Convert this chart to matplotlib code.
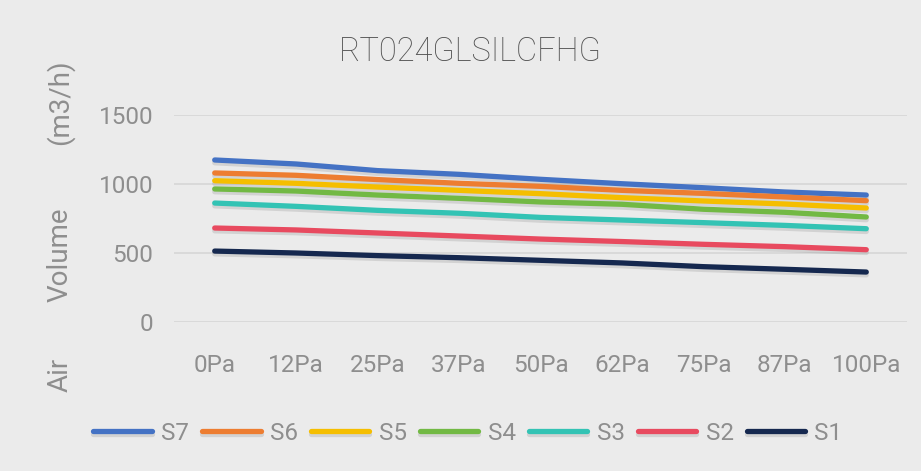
import matplotlib
matplotlib.use("Agg")
import matplotlib.pyplot as plt
import matplotlib.patheffects as pe

# ── 数据 ──
categories = ["0Pa", "12Pa", "25Pa", "37Pa", "50Pa", "62Pa", "75Pa", "87Pa", "100Pa"]
series_names = ["S7", "S6", "S5", "S4", "S3", "S2", "S1"]
s7 = [1174, 1145, 1097, 1070, 1034, 1002, 973, 942, 920]
s6 = [1080, 1063, 1032, 1005, 983, 954, 932, 906, 879]
s5 = [1024, 1005, 978, 954, 930, 901, 877, 855, 826]
s4 = [964, 949, 920, 896, 870, 853, 817, 795, 761]
s3 = [862, 838, 809, 788, 758, 739, 720, 700, 676]
s2 = [681, 667, 645, 623, 601, 583, 563, 546, 524]
s1 = [514, 500, 481, 466, 447, 428, 401, 382, 362]
yticks = [0, 500, 1000, 1500]

colors = ["#4472C4", "#ED7D31", "#F5BE00", "#72B944", "#33C3B4", "#E84A5F", "#15284F"]
bg = "#EBEBEB"
txt = "#8E8E8E"

plt.rcParams["font.family"] = ["Roboto", "DejaVu Sans"]

fig = plt.figure(figsize=(9.21, 4.71), dpi=100, facecolor=bg)
ax = fig.add_axes([174 / 921, 1 - 322 / 471, (907 - 174) / 921, 207 / 471])
ax.set_facecolor(bg)

x = range(len(categories))
shadow = [pe.SimpleLineShadow(offset=(0, -2), shadow_color="#888888", alpha=0.25), pe.Normal()]
for name, vals, c in zip(series_names, [s7, s6, s5, s4, s3, s2, s1], colors):
    ax.plot(x, vals, color=c, lw=3.8, solid_capstyle="round", label=name, path_effects=shadow)

ax.set_xlim(-0.5, len(categories) - 0.5)
ax.set_ylim(0, 1500)
ax.set_yticks(yticks)
ax.set_xticks(list(x))
ax.set_xticklabels(categories)
ax.grid(axis="y", color="#D6D6D6", lw=1.2)
ax.set_axisbelow(True)
for s in ax.spines.values():
    s.set_visible(False)
ax.tick_params(axis="both", length=0, labelsize=17.5, labelcolor=txt)
ax.tick_params(axis="y", pad=15)
ax.tick_params(axis="x", pad=23)

fig.text(470 / 921, 1 - 52 / 471, "RT024GLSILCFHG", ha="center", va="center",
         fontsize=23.5, color="#505050", fontweight="light")

# y 轴标题，原图词间距很宽，分三段放置
ylab_kw = dict(rotation=90, ha="center", va="center", fontsize=20, color=txt)
fig.text(60 / 921, 1 - 375 / 471, "Air", **ylab_kw)
fig.text(60 / 921, 1 - 255 / 471, "Volume", **ylab_kw)
fig.text(60 / 921, 1 - 102 / 471, "(m3/h)", **ylab_kw)

leg = fig.legend(loc="center", bbox_to_anchor=(468 / 921, 1 - 433 / 471), ncol=7, frameon=False,
                 fontsize=17.5, handlelength=2.4, handletextpad=0.38, columnspacing=0.55,
                 labelcolor=txt)

fig.savefig("out.png", dpi=100, facecolor=bg)
